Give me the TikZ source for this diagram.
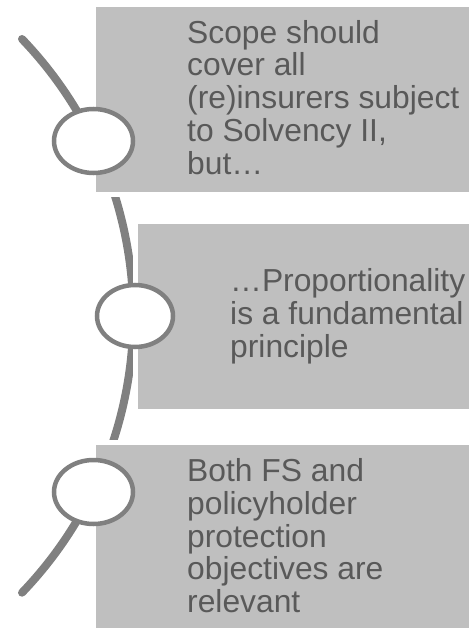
\documentclass[tikz,border=0pt]{standalone}
\usepackage{fontspec}
\setmainfont{Liberation Sans}
\usepackage{xcolor}
\usepackage{tikz}
\usetikzlibrary{shapes.geometric}

\definecolor{boxgray}{HTML}{BFBFBF}
\definecolor{linegray}{HTML}{808080}
\definecolor{textgray}{HTML}{595959}

\begin{document}
\begin{tikzpicture}[x=1pt, y=-1pt]

    \useasboundingbox (0,0) rectangle (468,628);

    % Define style for boxes
    \tikzstyle{box} = [rectangle, anchor=north west, minimum width=380pt, minimum height=185pt, inner sep=0pt, fill=boxgray, preaction={draw=white, line width=10pt}]
    \tikzstyle{label} = [anchor=west, align=left, inner sep=0pt, text=textgray, font=\fontsize{31.8}{32.75}\selectfont]
    \tikzstyle{ring} = [ellipse, minimum width=79pt, minimum height=64pt, inner sep=0pt, draw=linegray, line width=4.5pt, fill=white]

    % Spine
    \draw[linegray, line width=8pt, line cap=round] (22,39) arc[start angle=43.8, end angle=-43.8, radius=400pt];

    % Boxes
    \node (scope) [box] at (96,7) {};
    \node (proport) [box] at (138,223.5) {};
    \node (objectives) [box] at (96,445) {};

    % Rings
    \node (ringscope) [ring] at (93.5,141) {};
    \node (ringproport) [ring, minimum width=76pt, minimum height=62pt] at (135,316) {};
    \node (ringobjectives) [ring] at (93.5,492) {};

    % Texts
    \node (scopetext) [label] at (187,97.3) {Scope should\\cover all\\(re)insurers subject\\to Solvency II,\\but…};
    \node (proporttext) [label] at (230,316.2) {…Proportionality\\is a fundamental\\principle};
    \node (objectivestext) [label] at (187,535.8) {Both FS and\\policyholder\\protection\\objectives are\\relevant};

\end{tikzpicture}
\end{document}
